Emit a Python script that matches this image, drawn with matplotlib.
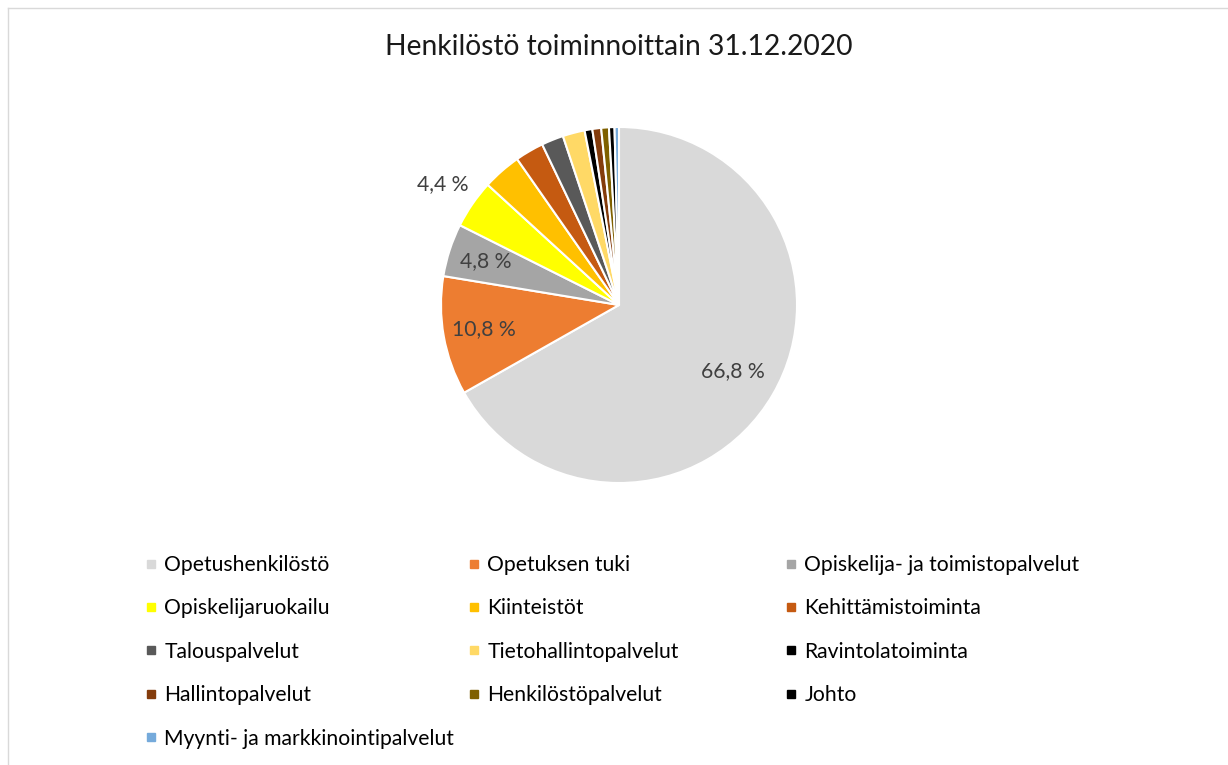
import matplotlib
matplotlib.use("Agg")
import matplotlib.pyplot as plt
from matplotlib.lines import Line2D
import numpy as np

plt.rcParams['font.family'] = ['Lato', 'DejaVu Sans']

title = "Henkilöstö toiminnoittain 31.12.2020"
categories = ["Opetushenkilöstö", "Opetuksen tuki", "Opiskelija- ja toimistopalvelut",
              "Opiskelijaruokailu", "Kiinteistöt", "Kehittämistoiminta",
              "Talouspalvelut", "Tietohallintopalvelut", "Ravintolatoiminta",
              "Hallintopalvelut", "Henkilöstöpalvelut", "Johto",
              "Myynti- ja markkinointipalvelut"]
values = [66.8, 10.8, 4.8, 4.4, 3.5, 2.6, 2.0, 2.0, 0.7, 0.8, 0.7, 0.5, 0.4]
colors = ["#D9D9D9", "#ED7D31", "#A5A5A5", "#FFFF00", "#FFC000", "#C55A11",
          "#595959", "#FFD966", "#000000", "#843C0C", "#7F6000", "#000000",
          "#75AADB"]
labeled = [0, 1, 2, 3]
label_dist = {0: 0.74, 1: 0.77, 2: 0.79, 3: 1.2}

W, H = 1228, 765
fig = plt.figure(figsize=(W / 100, H / 100), dpi=100)
fig.patch.set_facecolor("white")

# frame lines (top and left visible in reference)
fig.add_artist(Line2D([7.5 / W, 7.5 / W], [0, 1 - 7.5 / H], transform=fig.transFigure,
                      color="#D9D9D9", lw=1.0))
fig.add_artist(Line2D([7.5 / W, 1], [1 - 7.5 / H, 1 - 7.5 / H], transform=fig.transFigure,
                      color="#D9D9D9", lw=1.0))

cx, cy, r = 619, 305, 178
ax = fig.add_axes([(cx - r) / W, (H - cy - r) / H, 2 * r / W, 2 * r / H])
wedges, _ = ax.pie(values, colors=colors, startangle=90, counterclock=False,
                   radius=1.0, wedgeprops=dict(edgecolor="white", linewidth=1.5))
ax.set_xlim(-1, 1)
ax.set_ylim(-1, 1)
ax.set_aspect("equal")
ax.axis("off")

for i in labeled:
    w = wedges[i]
    ang = np.deg2rad((w.theta1 + w.theta2) / 2)
    d = label_dist[i]
    txt = f"{values[i]:.1f}".replace(".", ",") + " %"
    ax.text(d * np.cos(ang), d * np.sin(ang), txt, ha="center", va="center",
            fontsize=15.2, color="#404040")

fig.text(619 / W, 1 - 47 / H, title, ha="center", va="center", fontsize=20.3, color="#1a1a1a")

# legend: three columns, row-major order
col_x = [145 / W, 468 / W, 785 / W]
for c in range(3):
    idx = list(range(c, len(categories), 3))
    handles = [Line2D([], [], marker="s", linestyle="none", markersize=6,
                      markerfacecolor=colors[i], markeredgecolor=colors[i]) for i in idx]
    fig.legend(handles, [categories[i] for i in idx], loc="upper left",
               bbox_to_anchor=(col_x[c], 1 - 555 / H), frameon=False,
               fontsize=15.2, handlelength=0.55, handletextpad=0.37,
               labelspacing=1.11, borderpad=0, borderaxespad=0)

fig.savefig("out.png", dpi=100)
